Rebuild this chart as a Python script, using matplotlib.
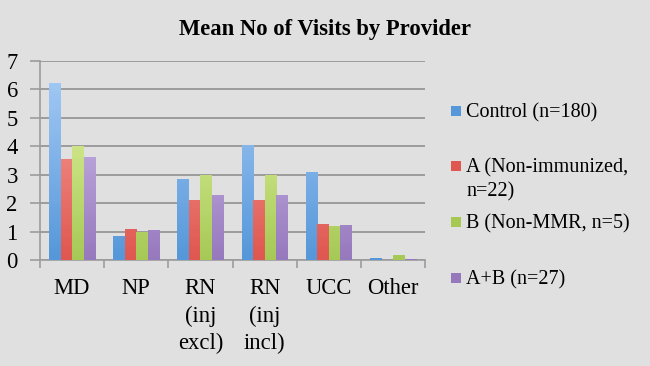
import numpy as np
import matplotlib
matplotlib.use("Agg")
import matplotlib.pyplot as plt
from matplotlib.colors import LinearSegmentedColormap
from matplotlib.patches import Rectangle

# Chart data
categories = ["MD", "NP", "RN\n(inj\nexcl)", "RN\n(inj\nincl)", "UCC", "Other"]
series_names = ["Control (n=180)", "A (Non-immunized,\nn=22)", "B (Non-MMR, n=5)", "A+B (n=27)"]
control = [6.22, 0.84, 2.85, 4.05, 3.08, 0.06]
group_a = [3.55, 1.08, 2.12, 2.12, 1.27, 0.0]
group_b = [4.0, 0.99, 3.0, 3.0, 1.2, 0.17]
group_ab = [3.62, 1.05, 2.28, 2.28, 1.23, 0.03]
series = [control, group_a, group_b, group_ab]

# (top colour, bottom colour) for the gradient fill
grads = [("#a9cdf7", "#5597d9"),
         ("#f9aaa3", "#df5750"),
         ("#e9f9aa", "#a6c956"),
         ("#d9c6f2", "#9679bd")]

FONT = "Liberation Serif"
plt.rcParams["font.family"] = FONT
bg = "#e0e0e0"
fig = plt.figure(figsize=(6.5, 3.66), dpi=100, facecolor=bg)
ax = fig.add_axes([0.0615, 0.2896, 0.5925, 0.545], facecolor=bg)

x = np.arange(len(categories))
w = 0.18
for i, vals in enumerate(series):
    bars = ax.bar(x + (i - 1.5) * w, vals, w, color="none", edgecolor="none", zorder=3)
    cmap = LinearSegmentedColormap.from_list("g%d" % i, [grads[i][1], grads[i][0]])
    for b in bars:
        h = b.get_height()
        if h <= 0:
            continue
        x0 = b.get_x()
        im = ax.imshow(np.linspace(0, 1, 64).reshape(-1, 1), cmap=cmap, aspect="auto",
                       origin="lower", extent=(x0, x0 + w, 0, 7), zorder=3)
        im.set_clip_path(b)

ax.set_xlim(-0.5, len(categories) - 0.5)
ax.set_ylim(0, 7)
ax.set_yticks(range(8))
ax.set_yticklabels([str(v) for v in range(8)], family=FONT, fontsize=16.3)
ax.grid(axis="y", color="#9c9c9c", linewidth=1.4, zorder=1)
ax.set_axisbelow(True)

ax.set_xticks(x)
ax.set_xticklabels(categories, family=FONT, fontsize=16.3, linespacing=1.4, va="top")
ax.set_xticks(np.arange(len(categories) + 1) - 0.5, minor=True)
ax.tick_params(axis="x", which="major", length=0, pad=13)
ax.tick_params(axis="x", which="minor", length=6, width=1.2, color="#9c9c9c", direction="out")
ax.tick_params(axis="y", length=7, width=1.2, color="#9c9c9c", pad=9)

for s in ["top", "right"]:
    ax.spines[s].set_visible(False)
for s in ["left", "bottom"]:
    ax.spines[s].set_color("#9c9c9c")
    ax.spines[s].set_linewidth(1.2)

fig.text(0.5, 0.92, "Mean No of Visits by Provider", ha="center", va="center",
         family=FONT, fontsize=16.3, fontweight="bold")

# Legend drawn by hand to match the layout
leg_y = [111, 166, 222, 278]
for i, name in enumerate(series_names):
    yy = 1 - leg_y[i] / 366
    fig.patches.append(Rectangle((451 / 650, yy - 5 / 366), 10 / 650, 10 / 366,
                                 transform=fig.transFigure, facecolor=grads[i][1],
                                 edgecolor="none"))
    fig.text(466 / 650, yy + 8 / 366, name, ha="left", va="top", family=FONT,
             fontsize=14.5, linespacing=1.35)

fig.savefig("out.png", dpi=100, facecolor=bg)
